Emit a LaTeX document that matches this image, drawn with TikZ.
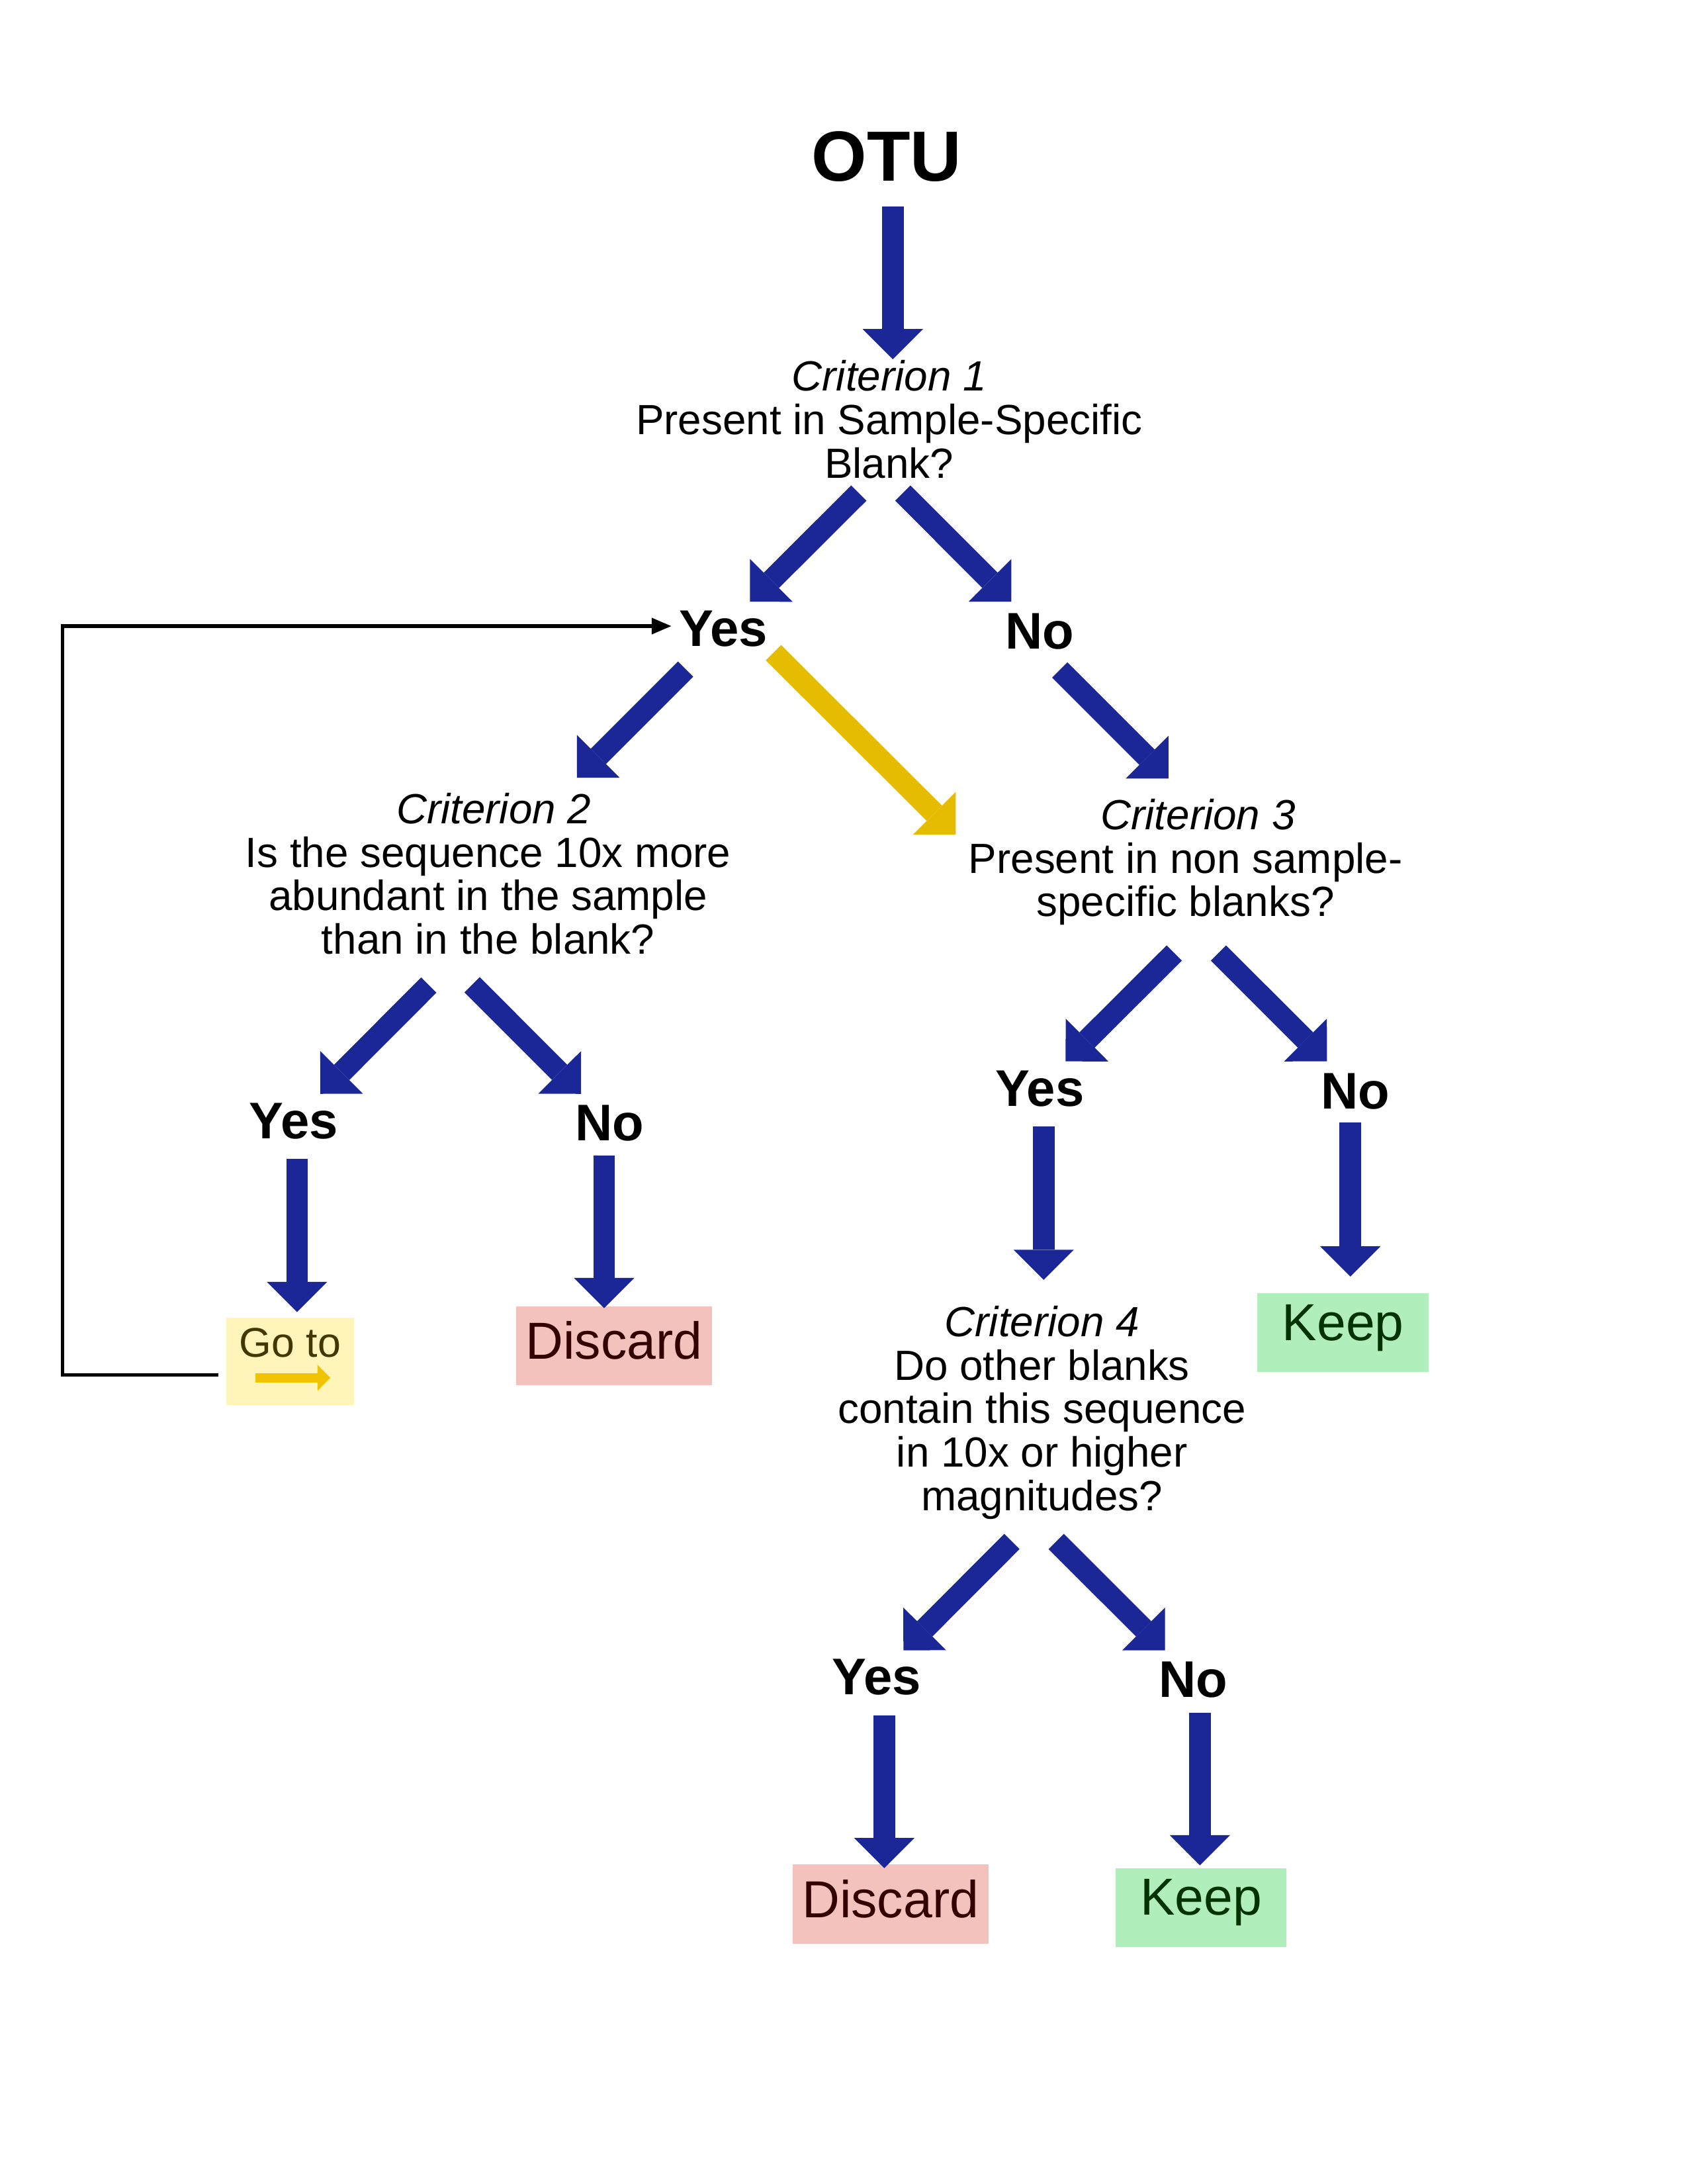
\documentclass[tikz,border=0pt]{standalone}
\usepackage{fontspec}
\setmainfont{Liberation Sans}
\usepackage{tikz}
\usetikzlibrary{arrows.meta, calc}

\definecolor{flowblue}{RGB}{27,39,151}
\definecolor{flowyellow}{RGB}{229,188,0}
\definecolor{gotoyellow}{RGB}{240,196,0}
\definecolor{gotofill}{RGB}{255,244,185}
\definecolor{gototext}{RGB}{64,56,0}
\definecolor{discardfill}{RGB}{243,194,188}
\definecolor{discardtext}{RGB}{51,0,0}
\definecolor{keepfill}{RGB}{176,238,188}
\definecolor{keeptext}{RGB}{0,51,0}

\begin{document}
\begin{tikzpicture}[
  x=0.5pt, y=-0.5pt,
  question/.style={align=center, inner sep=0pt, font=\fontsize{15.15pt}{15.6pt}\selectfont},
  answer/.style={anchor=base, inner sep=0pt, font=\fontsize{18.5pt}{20pt}\selectfont\bfseries},
  discardbox/.style={fill=discardfill, text=discardtext, inner sep=0pt, minimum width=70.4pt, minimum height=28.3pt, text height=14pt, text depth=4.5pt, font=\fontsize{18.7pt}{20pt}\selectfont},
  keepbox/.style={fill=keepfill, text=keeptext, inner sep=0pt, minimum width=61.4pt, minimum height=28.3pt, text height=14pt, text depth=8.5pt, font=\fontsize{18.7pt}{20pt}\selectfont},
  gotobox/.style={fill=gotofill, text=gototext, inner sep=0pt, minimum width=46pt, minimum height=31.3pt, text height=10.5pt, text depth=13.5pt, font=\fontsize{14.9pt}{16pt}\selectfont},
  arrow/.style={-{Triangle[length=10.85pt, width=21.7pt, line width=0pt]}, line width=7.75pt, flowblue},
  skiparrow/.style={arrow, flowyellow},
  looparrow/.style={-{Triangle[length=7pt, width=6pt, line width=0pt]}, line width=1.2pt, black}
]
\useasboundingbox (0,0) rectangle (1212,1568);

% Start: OTU
\node[anchor=base, inner sep=0pt, font=\fontsize{25.5pt}{28pt}\selectfont\bfseries] (otu) at (636.7,130) {OTU};

% Criterion 1
\node[question] (crit1) at (638.5,301.1) {\textit{Criterion 1}\\Present in Sample-Specific\\Blank?};
\coordinate (otuout) at (641.1,148.1);
\coordinate (crit1in) at (641.1,257.9);
\draw[arrow] (otuout) -- (crit1in);

\node[answer] (yes1) at (519.4,464) {Yes};
\node[answer] (no1) at (746.5,466) {No};
\coordinate (crit1l) at (616.7,354);
\coordinate (crit1r) at (648.3,354);
\coordinate (yes1in) at (538.5,432);
\coordinate (no1in) at (726.2,432);
\draw[arrow] (crit1l) -- (yes1in);
\draw[arrow] (crit1r) -- (no1in);

% Criterion 2 (Yes branch)
\node[question] (crit2) at (350.5,627.3) {\hspace*{4pt}\textit{Criterion 2}\\Is the sequence 10x more\\abundant in the sample\\than in the blank?};
\coordinate (yes1out) at (492.3,480.4);
\coordinate (crit2in) at (414.3,558.4);
\draw[arrow] (yes1out) -- (crit2in);

% Criterion 3 (No branch, or skipped to from Yes)
\node[question] (crit3) at (851.3,619) {\hspace*{9pt}\textit{Criterion 3}\\Present in non sample-\\specific blanks?};
\coordinate (no1out) at (761,481);
\coordinate (crit3in) at (839,559);
\draw[arrow] (no1out) -- (crit3in);
\coordinate (yes1skip) at (555.4,468.6);
\coordinate (crit3skip) at (686.3,599.2);
\draw[skiparrow] (yes1skip) -- (crit3skip);

% Outcomes of criterion 2
\node[answer] (yes2) at (211,817.5) {Yes};
\node[answer] (no2) at (437.8,819) {No};
\coordinate (crit2l) at (307.9,707.2);
\coordinate (crit2r) at (339,707);
\coordinate (yes2in) at (230,785.3);
\coordinate (no2in) at (417.2,785.3);
\draw[arrow] (crit2l) -- (yes2in);
\draw[arrow] (crit2r) -- (no2in);

\node[gotobox] (goto) at (208.4,977.3) {Go to};
\draw[-{Triangle[length=4.6pt, width=9.3pt, line width=0pt]}, line width=3.3pt, gotoyellow]
  ($(goto.center)+(-25.2,11.9)$) -- ($(goto.center)+(28.8,11.9)$);
\node[discardbox] (discard1) at (440.9,966.3) {Discard};
\coordinate (yes2out) at (213.3,832.1);
\coordinate (gotoin) at (213.3,942);
\coordinate (no2out) at (433.8,829.4);
\coordinate (discard1in) at (433.8,939.2);
\draw[arrow] (yes2out) -- (gotoin);
\draw[arrow] (no2out) -- (discard1in);

% Loop back to the first Yes
\coordinate (loopstart) at (157,987);
\coordinate (loopcorner) at (44.7,449.5);
\coordinate (looptip) at (482,449.5);
\draw[looparrow] (loopstart) -| (loopcorner) -- (looptip);

% Outcomes of criterion 3
\node[answer] (yes3) at (746.6,794.2) {Yes};
\node[answer] (no3) at (973.3,796) {No};
\coordinate (crit3l) at (843.2,684.2);
\coordinate (crit3r) at (874.9,684.2);
\coordinate (yes3in) at (765.2,762);
\coordinate (no3in) at (952.8,762);
\draw[arrow] (crit3l) -- (yes3in);
\draw[arrow] (crit3r) -- (no3in);

\node[keepbox] (keep1) at (964.4,956.7) {Keep};
\coordinate (no3out) at (969.6,806);
\coordinate (keep1in) at (969.6,916.5);
\draw[arrow] (no3out) -- (keep1in);

% Criterion 4
\node[question] (crit4) at (748.2,1014.1) {\textit{Criterion 4}\\Do other blanks\\contain this sequence\\in 10x or higher\\magnitudes?};
\coordinate (yes3out) at (749.4,808.8);
\coordinate (crit4in) at (749.4,918.9);
\draw[arrow] (yes3out) -- (crit4in);

% Outcomes of criterion 4
\node[answer] (yes4) at (629.6,1216.7) {Yes};
\node[answer] (no4) at (857,1218.4) {No};
\coordinate (crit4l) at (726.6,1106.7);
\coordinate (crit4r) at (758.4,1106.7);
\coordinate (yes4in) at (648.7,1184.8);
\coordinate (no4in) at (836.6,1184.8);
\draw[arrow] (crit4l) -- (yes4in);
\draw[arrow] (crit4r) -- (no4in);

\node[discardbox] (discard2) at (639.4,1367) {Discard};
\node[keepbox] (keep2) at (862.5,1369.4) {Keep};
\coordinate (yes4out) at (635,1231.6);
\coordinate (discard2in) at (635,1341.2);
\coordinate (no4out) at (861.6,1229.6);
\coordinate (keep2in) at (861.6,1339.2);
\draw[arrow] (yes4out) -- (discard2in);
\draw[arrow] (no4out) -- (keep2in);

\end{tikzpicture}
\end{document}
